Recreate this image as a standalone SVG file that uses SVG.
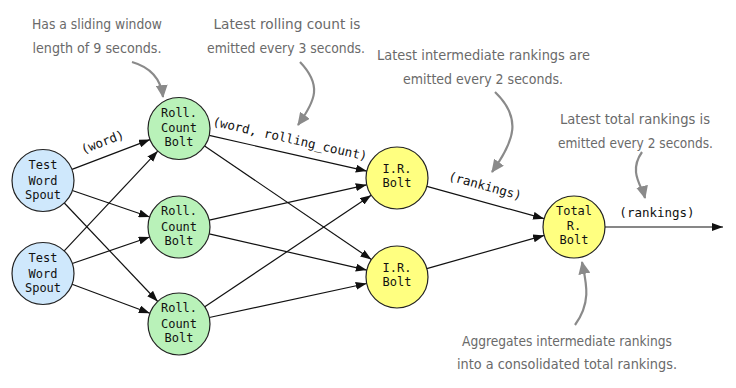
<svg xmlns="http://www.w3.org/2000/svg" width="736" height="388" viewBox="0 0 736 388">
<style>
.n circle{stroke:#222;stroke-width:1.2}
.spout circle{fill:#cfe8fc}
.roll circle{fill:#b9f2b9}
.ir circle{fill:#ffff80}
.n text{font-family:"DejaVu Sans Mono","Liberation Mono",monospace;font-size:12px;fill:#111;text-anchor:middle}
.e line{stroke:#111;stroke-width:1.2;marker-end:url(#ah)}
.lbl{font-family:"DejaVu Sans Mono","Liberation Mono",monospace;font-size:12.5px;fill:#111;text-anchor:middle}
.note{font-family:"Liberation Sans Narrow","DejaVu Sans Condensed","Liberation Sans",sans-serif;font-size:14px;fill:#6a6a6a;text-anchor:middle}
.ga path{fill:none;stroke:#8a8a8a;stroke-width:2.2;marker-end:url(#gh)}
</style>
<defs>
<marker id="ah" markerUnits="userSpaceOnUse" markerWidth="11" markerHeight="8" refX="11" refY="4" orient="auto"><path d="M0,0 L11,4 L0,8 z" fill="#111"/></marker>
<marker id="gh" markerUnits="userSpaceOnUse" markerWidth="14" markerHeight="12" refX="12" refY="6" orient="auto"><path d="M0,0 L13,6 L0,12 z" fill="#8a8a8a"/></marker>
</defs>
<rect width="736" height="388" fill="#fff"/>
<g id="connectors" class="e">
<line x1="72" y1="169.4" x2="150" y2="139.6"/>
<line x1="72.3" y1="190.5" x2="149.7" y2="217"/>
<line x1="64.3" y1="203" x2="157.7" y2="301.5"/>
<line x1="64.2" y1="250.9" x2="157.8" y2="151.1"/>
<line x1="72.3" y1="263.5" x2="149.7" y2="237"/>
<line x1="72.1" y1="284.3" x2="149.9" y2="313.2"/>
<line x1="209.2" y1="135.4" x2="366.8" y2="171.1"/>
<line x1="204.6" y1="146" x2="371.4" y2="259.5"/>
<line x1="209.3" y1="220.2" x2="366.7" y2="184.8"/>
<line x1="209.2" y1="233.9" x2="366.8" y2="270.1"/>
<line x1="204.8" y1="306.8" x2="371.2" y2="195.2"/>
<line x1="209.3" y1="317.5" x2="366.7" y2="283.5"/>
<line x1="426.9" y1="186.3" x2="544.1" y2="218.7"/>
<line x1="426.8" y1="268.6" x2="544.2" y2="235.4"/>
<line x1="605" y1="227" x2="723" y2="227"/>
</g>
<g id="edge-labels">
<text class="lbl" transform="translate(104,146) rotate(-20.9)">(word)</text>
<text class="lbl" transform="translate(289,143) rotate(12.8)">(word, rolling_count)</text>
<text class="lbl" transform="translate(484,190) rotate(15.5)">(rankings)</text>
<text class="lbl" x="657" y="217">(rankings)</text>
</g>
<g id="spout1" class="n spout"><circle cx="43" cy="180.5" r="31"/><text x="43" y="169">Test</text><text x="43" y="184.5">Word</text><text x="43" y="199">Spout</text></g>
<g id="spout2" class="n spout"><circle cx="43" cy="273.5" r="31"/><text x="43" y="262">Test</text><text x="43" y="277.5">Word</text><text x="43" y="292">Spout</text></g>
<g id="roll1" class="n roll"><circle cx="179" cy="128.5" r="31"/><text x="179" y="117">Roll.</text><text x="179" y="132">Count</text><text x="179" y="146">Bolt</text></g>
<g id="roll2" class="n roll"><circle cx="179" cy="227" r="31"/><text x="179" y="215">Roll.</text><text x="179" y="230.5">Count</text><text x="179" y="244.5">Bolt</text></g>
<g id="roll3" class="n roll"><circle cx="179" cy="324" r="31"/><text x="179" y="312">Roll.</text><text x="179" y="327.5">Count</text><text x="179" y="341.5">Bolt</text></g>
<g id="ir1" class="n ir"><circle cx="397" cy="178" r="31"/><text x="397" y="173">I.R.</text><text x="397" y="187">Bolt</text></g>
<g id="ir2" class="n ir"><circle cx="397" cy="277" r="31"/><text x="397" y="272">I.R.</text><text x="397" y="286">Bolt</text></g>
<g id="total" class="n ir"><circle cx="574" cy="227" r="31"/><text x="574" y="215">Total</text><text x="574" y="230">R.</text><text x="574" y="244">Bolt</text></g>
<g id="annotations">
<text class="note" x="97" y="29" textLength="130" lengthAdjust="spacingAndGlyphs">Has a sliding window</text>
<text class="note" x="97" y="53" textLength="129" lengthAdjust="spacingAndGlyphs">length of 9 seconds.</text>
<text class="note" x="287" y="29" textLength="147" lengthAdjust="spacingAndGlyphs">Latest rolling count is</text>
<text class="note" x="286" y="53" textLength="158" lengthAdjust="spacingAndGlyphs">emitted every 3 seconds.</text>
<text class="note" x="483.5" y="60" textLength="213" lengthAdjust="spacingAndGlyphs">Latest intermediate rankings are</text>
<text class="note" x="483" y="84" textLength="160" lengthAdjust="spacingAndGlyphs">emitted every 2 seconds.</text>
<text class="note" x="635" y="124" textLength="150" lengthAdjust="spacingAndGlyphs">Latest total rankings is</text>
<text class="note" x="635.5" y="148" textLength="155" lengthAdjust="spacingAndGlyphs">emitted every 2 seconds.</text>
<text class="note" x="567" y="346" textLength="210" lengthAdjust="spacingAndGlyphs">Aggregates intermediate rankings</text>
<text class="note" x="567" y="369" textLength="220" lengthAdjust="spacingAndGlyphs">into a consolidated total rankings.</text>
</g>
<g id="note-arrows" class="ga">
<path d="M132,62 Q160,70 163,97"/>
<path d="M300,62 C322,85 316,100 298,125"/>
<path d="M495,92 C522,118 515,140 492,172"/>
<path d="M642,152 C628,172 642,186 645,198"/>
<path d="M575,325 C592,302 586,282 582,262"/>
</g>
</svg>
